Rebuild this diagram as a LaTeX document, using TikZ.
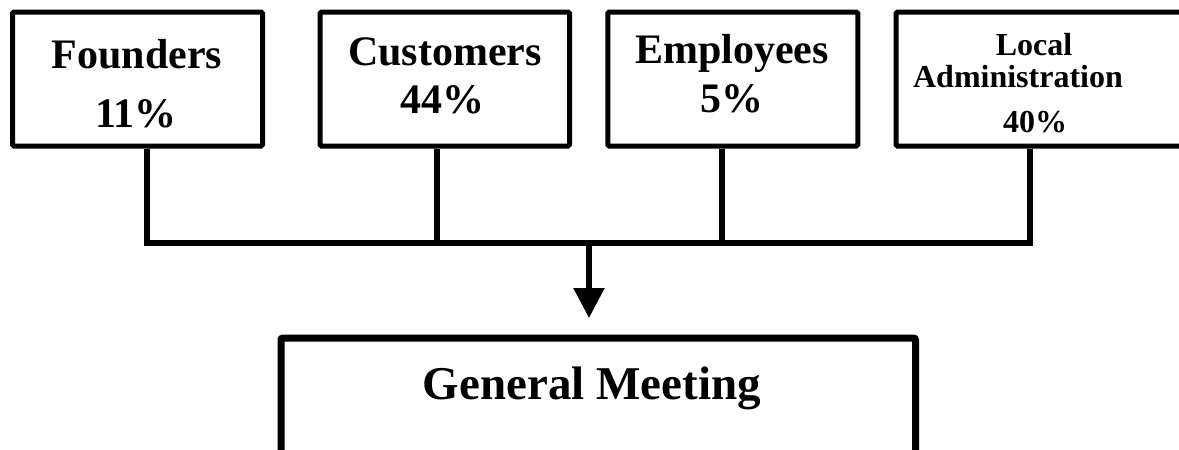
\documentclass[tikz,border=0pt]{standalone}
\usepackage{fontspec}
\setmainfont{Liberation Serif}
\usetikzlibrary{arrows.meta}

\tikzset{
  sharebox/.style={draw=black, line width=5pt, rounded corners=1.5pt,
                   inner sep=0pt, minimum height=134pt, fill=white},
  meetbox/.style={draw=black, line width=7pt, rounded corners=2pt,
                  inner sep=0pt, fill=white},
  lbl/.style={inner sep=0pt, anchor=base, font=\bfseries\fontsize{42}{42}\selectfont},
  lblsmall/.style={inner sep=0pt, anchor=base, font=\bfseries\fontsize{32}{32}\selectfont},
  lblbig/.style={inner sep=0pt, anchor=base, font=\bfseries\fontsize{47}{47}\selectfont},
  wire/.style={line width=5.5pt, line join=miter},
}

\begin{document}
\begin{tikzpicture}[x=1pt, y=-1pt]
  \useasboundingbox (0,0) rectangle (1179,450);
  \fill[white] (0,0) rectangle (1179,450);
  \clip (0,0) rectangle (1179,450);

  % shareholder boxes
  \node[sharebox, minimum width=250pt] (f) at (137.5,79) {};
  \node[sharebox, minimum width=249.5pt] (c) at (444.75,79) {};
  \node[sharebox, minimum width=250pt] (e) at (732.75,79) {};
  \node[sharebox, minimum width=300pt] (la) at (1046,79) {};

  % general meeting box (runs past the lower edge)
  \node[meetbox, minimum width=634.5pt, minimum height=160pt] (gm) at (598.25,418) {};

  % labels
  \node[lbl] (fa) at (137,68) {Founders};
  \node[lbl] (fb) at (136,127) {11\%};
  \node[lbl] (ca) at (445,65) {Customers};
  \node[lbl] (cb) at (442,113) {44\%};
  \node[lbl] (ea) at (732,63) {Employees};
  \node[lbl] (eb) at (731.5,112) {5\%};
  \node[lblsmall] (laa) at (1034,55) {Local};
  \node[lblsmall] (lab) at (1018,87) {Administration};
  \node[lblsmall] (lac) at (1035,132) {40\%};
  \node[lblbig] (gma) at (592,399) {General Meeting};

  % junctions on the collecting bus
  \coordinate (j1) at (147,243);
  \coordinate (j2) at (437,243);
  \coordinate (j3) at (722,243);
  \coordinate (j4) at (1030,243);
  \coordinate (jm) at (589,243);
  \coordinate (tip) at (589,318);

  % stubs and bus
  \draw[wire] (f.south -| j1) -- (j1) -- (j4) -- (la.south -| j4);
  \draw[wire] (c.south -| j2) -- (j2);
  \draw[wire] (e.south -| j3) -- (j3);

  % arrow to the general meeting
  \draw[wire, -{Triangle[width=30pt,length=30pt]}] (jm) -- (tip);
\end{tikzpicture}
\end{document}
